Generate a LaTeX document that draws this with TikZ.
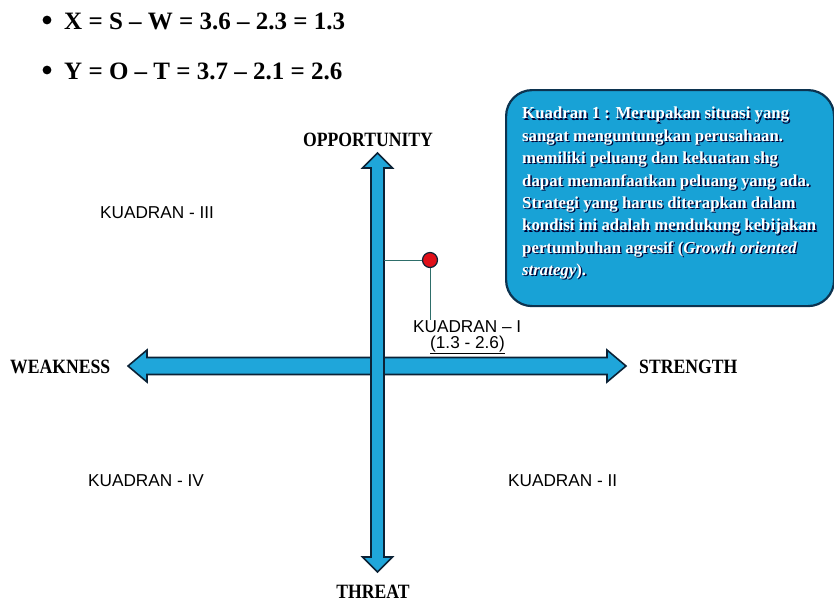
\documentclass[tikz,border=0pt]{standalone}
\usepackage{fontspec}
\setmainfont{Liberation Serif}
\newfontfamily\headserif[FakeStretch=0.87]{Liberation Serif}
\newfontfamily\quadsans{Liberation Sans}
\newfontfamily\boxserif{Liberation Serif}
\definecolor{arrowfill}{HTML}{1FA6DA}
\definecolor{arrowline}{HTML}{0B2236}
\definecolor{boxfill}{HTML}{18A2D6}
\definecolor{boxline}{HTML}{0C3350}
\definecolor{guide}{HTML}{2E6E6A}
\definecolor{dotred}{HTML}{E0101A}
\tikzset{
  bigarrow/.style={fill=arrowfill, draw=arrowline, line width=1.6pt, line join=miter},
  axislabel/.style={font=\headserif\bfseries\fontsize{20.3}{22}\selectfont, text=black, inner sep=0pt},
  quadlabel/.style={font=\quadsans\fontsize{17.2}{18}\selectfont, text=black, inner sep=0pt},
  formula/.style={font=\bfseries\fontsize{25}{28}\selectfont, anchor=west, inner sep=0pt},
  guideline/.style={draw=guide, line width=1pt},
  boxtext/.style={font=\boxserif\bfseries\fontsize{16.8}{22.4}\selectfont, align=left, anchor=north west, inner sep=0pt}
}
\newcommand{\kuadrantext}{%
Kuadran 1 : Merupakan situasi yang\\
sangat menguntungkan perusahaan.\\
memiliki peluang dan kekuatan shg\\
dapat memanfaatkan peluang yang ada.\\
Strategi yang harus diterapkan dalam\\
kondisi ini adalah mendukung kebijakan\\
pertumbuhan agresif (\textit{Growth oriented}\\
\textit{strategy}).}
\begin{document}
\begin{tikzpicture}[x=1pt,y=-1pt]
\useasboundingbox (0,0) rectangle (834,603);

% formulas
\fill (47,20) circle (4.4);
\node[formula] (fx) at (64,21) {X = S -- W = 3.6 -- 2.3 = 1.3};
\fill (47,70) circle (4.4);
\node[formula] (fy) at (64,71) {Y = O -- T = 3.7 -- 2.1 = 2.6};

% horizontal axis arrow
\path[bigarrow] (128,366) -- (147,350) -- (147,357.5) -- (607,357.5) -- (607,350)
  -- (626,366) -- (607,382) -- (607,374.5) -- (147,374.5) -- (147,382) -- cycle;
% vertical axis arrow
\path[bigarrow] (377.5,153) -- (392.5,168) -- (384,168) -- (384,557) -- (392.5,557)
  -- (377.5,572) -- (362.5,557) -- (371,557) -- (371,168) -- (362.5,168) -- cycle;

% axis labels
\node[axislabel] (opp) at (368,140) {OPPORTUNITY};
\node[axislabel] (thr) at (373,592) {THREAT};
\node[axislabel, anchor=west] (weak) at (10,367) {WEAKNESS};
\node[axislabel, anchor=west] (str) at (639,367) {STRENGTH};

% quadrant labels
\node[quadlabel, anchor=west] (q3) at (100,213) {KUADRAN - III};
\node[quadlabel, anchor=west] (q4) at (88,481) {KUADRAN - IV};
\node[quadlabel, anchor=west] (q2) at (508,481) {KUADRAN - II};
\node[quadlabel, anchor=west] (q1) at (413,327) {KUADRAN – I};
\node[quadlabel, anchor=west] (q1v) at (430,345) {\underline{(1.3 - 2.6)}};

% position point
\coordinate (ystop) at (384,260);
\coordinate (xstop) at (430,320);
\node[circle, fill=dotred, draw=arrowline, line width=1.2pt, minimum size=15pt, inner sep=0pt] (pt) at (430,260) {};
\draw[guideline] (ystop) -- (pt.west);
\draw[guideline] (pt.south) -- (xstop);

% description box
\node[draw=boxline, line width=2.2pt, fill=boxfill, rounded corners=26pt,
      minimum width=328pt, minimum height=216pt, anchor=north west, inner sep=0pt] (desc) at (505,89) {};
\node[boxtext, text=black!80!blue] at (523.3,108.3) {\kuadrantext};
\node[boxtext, text=white] (desctext) at (522,107) {\kuadrantext};
\end{tikzpicture}
\end{document}
